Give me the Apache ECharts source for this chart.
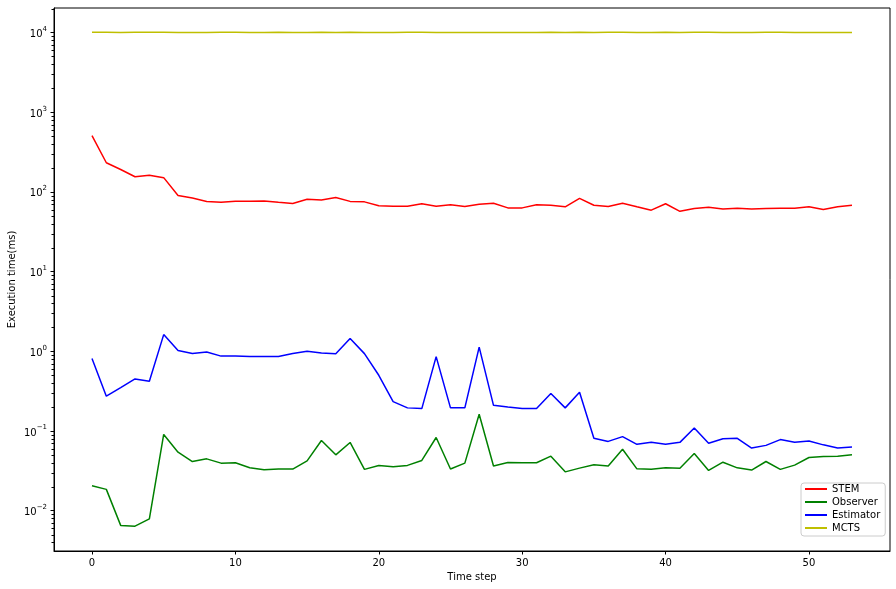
<!DOCTYPE html>
<html><head><meta charset="utf-8">
<script src="https://cdn.jsdelivr.net/npm/echarts@6/dist/echarts.min.js"></script>
<style>html,body{margin:0;padding:0;background:#fff}#c{width:896px;height:589px}</style>
</head><body><div id="c"></div>
<script>
const timeSteps = Array.from({length: 54}, (_, i) => i);
const stem = [509,232,191,155,162,151,90,84,76,74,76.5,76.5,77,74,71.6,81,79,85,76,75,67,66,66,71,66,69,65.6,70,72,63,63,69,68,65,83,68,65.6,72,65,59,71,57,62,64,61,62.5,61,62,62.5,62.5,65,60,65,68];
const observer = [0.0205,0.0185,0.00654,0.0064,0.0079,0.0904,0.0542,0.0414,0.0447,0.0395,0.0399,0.0345,0.0326,0.0333,0.0333,0.0422,0.076,0.0502,0.0718,0.033,0.0369,0.0355,0.037,0.0427,0.0828,0.0333,0.0395,0.162,0.0364,0.0403,0.04,0.04,0.0483,0.0307,0.0342,0.0376,0.0363,0.0591,0.0335,0.033,0.0345,0.034,0.0523,0.032,0.0406,0.0345,0.0323,0.0414,0.033,0.0373,0.0465,0.0479,0.0483,0.0502];
const estimator = [0.81,0.273,0.35,0.45,0.42,1.62,1.02,0.94,0.98,0.87,0.87,0.86,0.86,0.86,0.94,1.0,0.95,0.93,1.45,0.935,0.5,0.234,0.195,0.191,0.857,0.195,0.195,1.13,0.21,0.2,0.191,0.191,0.295,0.195,0.306,0.081,0.074,0.085,0.068,0.072,0.068,0.072,0.109,0.07,0.08,0.081,0.061,0.066,0.078,0.072,0.075,0.067,0.061,0.063];
const mcts = [10050,10060,10010,10040,10070,10060,10020,10000,10030,10050,10040,10020,10030,10050,10010,10000,10040,10020,10060,10030,10000,10010,10050,10040,10030,10020,10010,10000,9990,10010,10020,10000,10040,10030,10050,10020,10040,10060,10010,10000,10040,10030,10050,10040,10020,10030,10010,10040,10050,10020,10000,9990,10020,10010];
const xTicks = [0, 10, 20, 30, 40, 50];
const yTicks = [1e-2, 1e-1, 1e0, 1e1, 1e2, 1e3, 1e4];
const yMinorTicks = [];
for (let e = -3; e <= 4; e++) for (let m = 2; m <= 9; m++) yMinorTicks.push(m * Math.pow(10, e));

const X_MIN = -2.65, X_MAX = 55.65, Y_MIN = 0.00312, Y_MAX = 20300;
const font = 'DejaVu Sans';

function supLabel(v) {
  const e = Math.round(Math.log10(v));
  if (Math.abs(Math.log10(v) - e) > 1e-6) return '';
  const s = e < 0 ? '\u2212' + (-e) : String(e);
  return '{b|10}{e|' + s + '}';
}

const chart = echarts.init(document.getElementById('c'), null, {renderer: 'canvas'});
const mk = (name, data, color) => ({
  name, type: 'line', data: timeSteps.map((t, i) => [t, data[i]]),
  symbol: 'none', lineStyle: {color, width: 1.5}, itemStyle: {color},
  animation: false, yAxisIndex: 0
});
chart.setOption({
  animation: false,
  backgroundColor: '#fff',
  grid: {left: 54, right: 6, top: 8, bottom: 38, show: true, borderColor: '#000', borderWidth: 1,
    containLabel: false, outerBoundsMode: 'none'},
  xAxis: {
    type: 'value', min: X_MIN, max: X_MAX,
    name: 'Time step', nameLocation: 'middle', nameGap: 21, nameMoveOverlap: false,
    nameTextStyle: {fontFamily: font, fontSize: 10, color: '#000'},
    axisLine: {show: true, onZero: false, lineStyle: {color: '#000', width: 1}},
    axisTick: {show: true, length: 3.5, lineStyle: {color: '#000'}, customValues: xTicks},
    axisLabel: {show: true, margin: 7, fontFamily: font, fontSize: 10, color: '#000', customValues: xTicks},
    splitLine: {show: false}
  },
  yAxis: {
    type: 'log', min: Y_MIN, max: Y_MAX, logBase: 10, position: 'left',
    name: 'Execution time(ms)', nameLocation: 'middle', nameGap: 37, nameMoveOverlap: false,
    nameTextStyle: {fontFamily: font, fontSize: 10, color: '#000'},
    axisLine: {show: true, onZero: false, lineStyle: {color: '#000', width: 1}},
    axisTick: {show: true, length: 3.5, lineStyle: {color: '#000'}, customValues: yTicks},
    axisLabel: {show: true, margin: 7, color: '#000', customValues: yTicks,
      formatter: supLabel,
      rich: {
        b: {fontFamily: font, fontSize: 10, color: '#000', verticalAlign: 'bottom', lineHeight: 14},
        e: {fontFamily: font, fontSize: 7, color: '#000', verticalAlign: 'top', lineHeight: 14, padding: [0, 0, 5, 0]}
      }},
    splitLine: {show: false}, minorTick: {show: false}
  },
  legend: {
    orient: 'vertical', left: 801, top: 483,
    padding: [1, 5, 3, 3],
    itemWidth: 22, itemHeight: 12, itemGap: 3,
    backgroundColor: 'rgba(255,255,255,0.8)', borderColor: '#cccccc', borderWidth: 1, borderRadius: 3,
    itemStyle: {color: 'rgba(0,0,0,0)', borderColor: 'rgba(0,0,0,0)', borderWidth: 0},
    textStyle: {fontFamily: font, fontSize: 10, color: '#000'},
    data: ['STEM', 'Observer', 'Estimator', 'MCTS']
  },
  series: [
    mk('STEM', stem, '#ff0000'),
    mk('Observer', observer, '#008000'),
    mk('Estimator', estimator, '#0000ff'),
    mk('MCTS', mcts, '#bfbf00'),
    {
      type: 'custom', name: 'minorTicks', silent: true, clip: false, z: 5,
      data: yMinorTicks.filter(v => v >= Y_MIN && v <= Y_MAX).map(v => [X_MIN, v]),
      renderItem: function (params, api) {
        const p = api.coord([api.value(0), api.value(1)]);
        return {type: 'line', shape: {x1: p[0] - 2.5, y1: Math.round(p[1]) + 0.5, x2: p[0], y2: Math.round(p[1]) + 0.5},
          style: {stroke: '#000', lineWidth: 1}};
      }
    }
  ]
});
</script></body></html>
